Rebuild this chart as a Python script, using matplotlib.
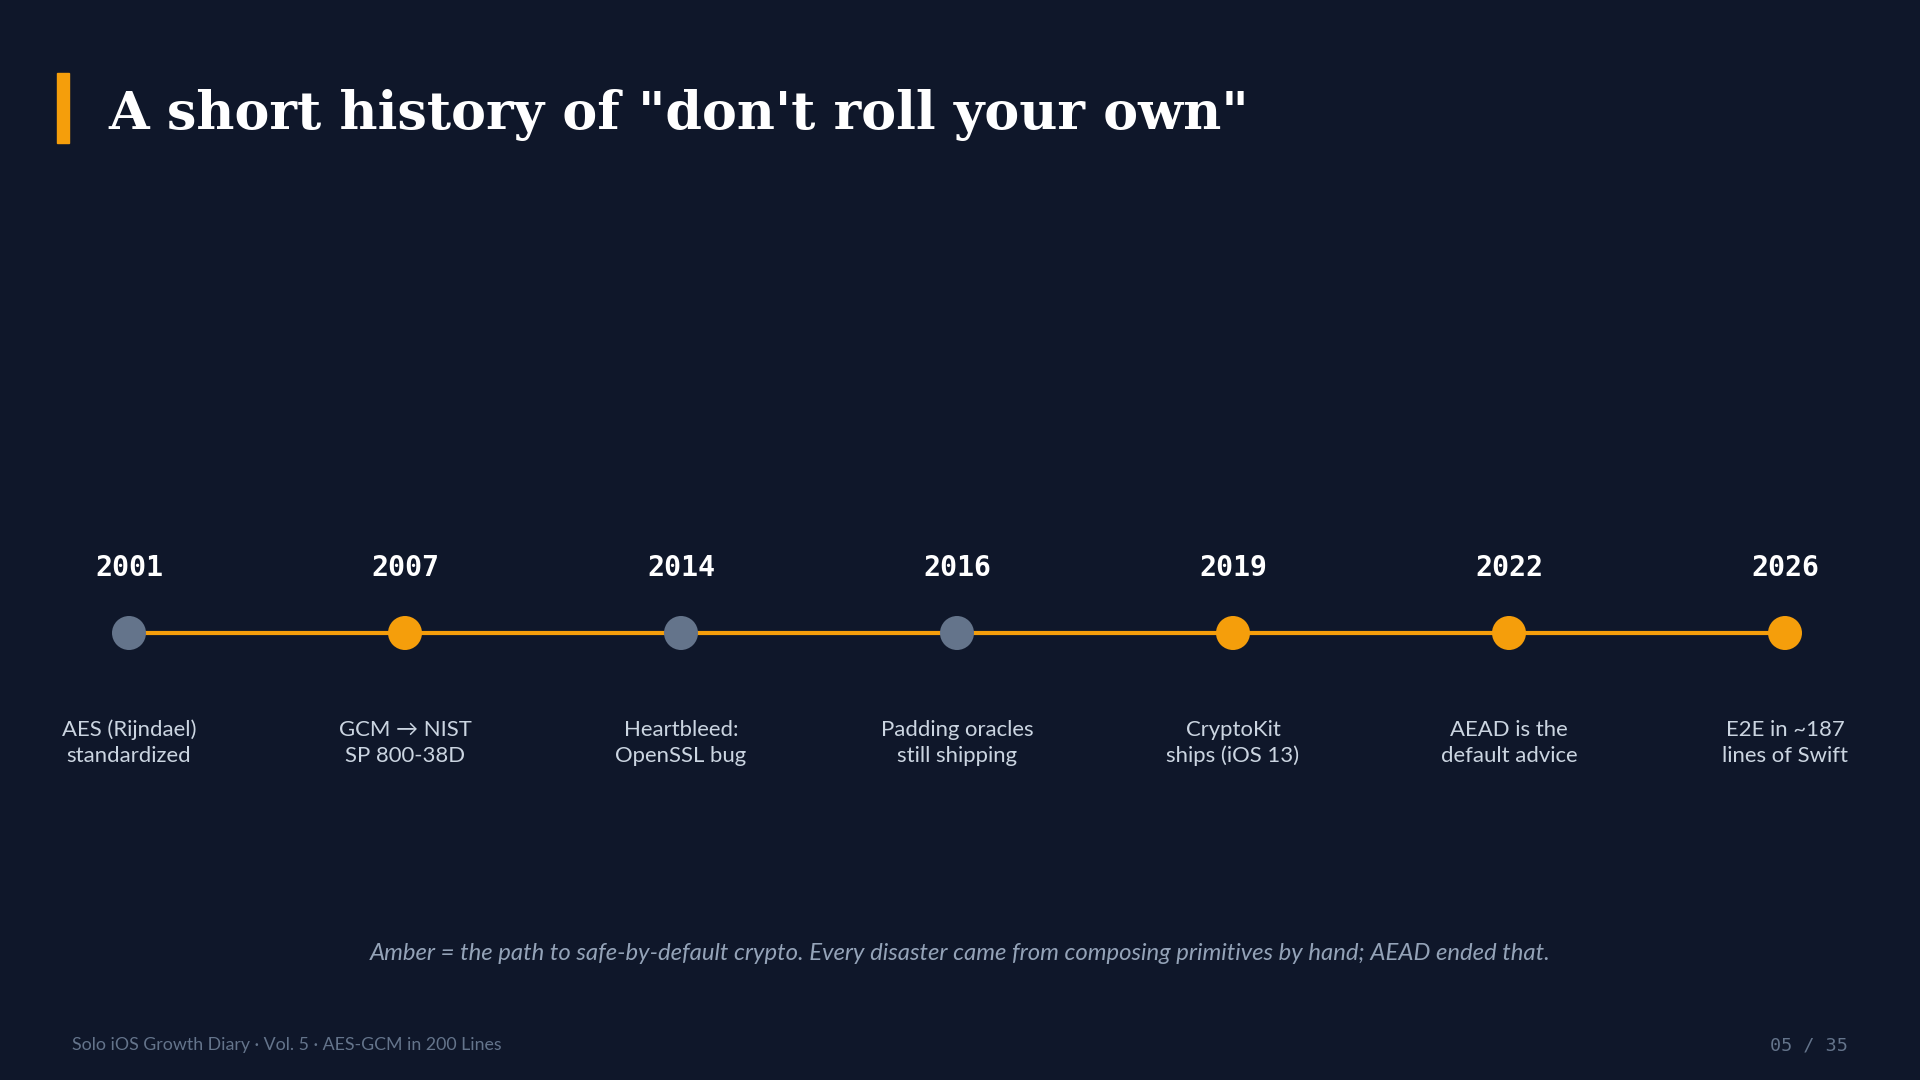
import matplotlib
matplotlib.use("Agg")
import matplotlib.pyplot as plt
from matplotlib.patches import Rectangle

# data
years = ["2001", "2007", "2014", "2016", "2019", "2022", "2026"]
labels = [
    "AES (Rijndael)\nstandardized",
    "GCM \u2192 NIST\nSP 800-38D",
    "Heartbleed:\nOpenSSL bug",
    "Padding oracles\nstill shipping",
    "CryptoKit\nships (iOS 13)",
    "AEAD is the\ndefault advice",
    "E2E in ~187\nlines of Swift",
]
on_safe_path = [False, True, False, False, True, True, True]

title = "A short history of \"don't roll your own\""
caption = ("Amber = the path to safe-by-default crypto. Every disaster came from "
           "composing primitives by hand; AEAD ended that.")
footer_left = "Solo iOS Growth Diary \u00b7 Vol. 5 \u00b7 AES-GCM in 200 Lines"
footer_right = "05 / 35"

BG = "#0f172a"
AMBER = "#f59e0b"
SLATE = "#64748b"
LABEL = "#cbd5e1"
MUTED = "#94a3b8"

W, H, DPI = 1920, 1080, 100
fig = plt.figure(figsize=(W / DPI, H / DPI), dpi=DPI, facecolor=BG)

# timeline axes fills the figure, 1 y-unit = 1 px, x step = 276 px
ax = fig.add_axes([0, 0, 1, 1])
ax.set_facecolor(BG)
step = 276.0
x0 = 129.0
ax.set_xlim(-x0 / step, (W - x0) / step)
ax.set_ylim(-(H - 633), 633)
ax.axis("off")

xs = list(range(len(years)))
ax.plot([xs[0], xs[-1]], [0, 0], color=AMBER, lw=3, zorder=1, solid_capstyle="butt")
colors = [AMBER if s else SLATE for s in on_safe_path]
ax.scatter(xs, [0] * len(xs), s=34 * 0.72 * 34 * 0.72, c=colors, zorder=3, linewidths=0)

for x, yr, lab in zip(xs, years, labels):
    ax.annotate(yr, (x, 0), xytext=(0, 65 * 0.72), textcoords="offset points",
                ha="center", va="center", fontsize=20.3, fontweight="bold",
                family="DejaVu Sans Mono", color="white")
    ax.annotate(lab, (x, 0), xytext=(0, -110 * 0.72), textcoords="offset points",
                ha="center", va="center", fontsize=15.9, family=["Lato", "DejaVu Sans"],
                color=LABEL, linespacing=1.36)

# title with accent bar
fig.patches.append(Rectangle((57 / W, 1 - 143 / H), 12 / W, 70 / H,
                             transform=fig.transFigure, color=AMBER, zorder=5))
fig.text(108 / W, 1 - 129 / H, title, ha="left", va="baseline",
         fontsize=37.7, fontweight="bold", family="DejaVu Serif", color="white")

fig.text(0.5, 1 - 953 / H, caption, ha="center", va="center", fontsize=17.2,
         style="italic", family=["Lato", "DejaVu Sans"], color=MUTED)

fig.text(72 / W, 1 - 1045 / H, footer_left, ha="left", va="center", fontsize=12.8,
         family=["Lato", "DejaVu Sans"], color=SLATE)
fig.text(1848 / W, 1 - 1045 / H, footer_right, ha="right", va="center", fontsize=13.2,
         family="DejaVu Sans Mono", color=SLATE)

fig.savefig("out.png", dpi=DPI, facecolor=BG)
